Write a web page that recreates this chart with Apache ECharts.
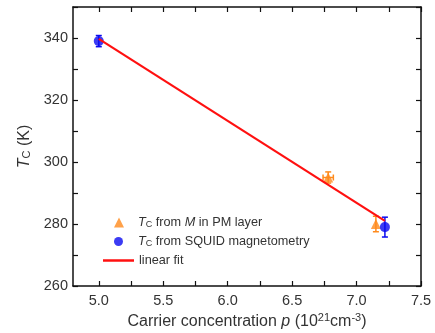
<!DOCTYPE html>
<html><head><meta charset="utf-8">
<script src="https://cdn.jsdelivr.net/npm/echarts@6/dist/echarts.min.js"></script>
<style>html,body{margin:0;padding:0;background:#fff}#c{width:435px;height:333px}</style>
</head><body><div id="c"></div>
<script>
// x, y, yErr, xErr
const pmX = [6.78, 7.15];
const pmY = [295, 280];
const pmYErr = [1.8, 2.5];
const pmXErr = [0.04, 0.0];
const squidX = [5.0, 7.22];
const squidY = [339, 279];
const squidYErr = [1.8, 3.2];
const fitX = [5.0, 7.22];
const fitY = [339.7, 281];
const xTicks = [5.0, 5.25, 5.5, 5.75, 6.0, 6.25, 6.5, 6.75, 7.0, 7.25, 7.5];
const xLabels = [5.0, 5.5, 6.0, 6.5, 7.0, 7.5];
const yLabels = [260, 280, 300, 320, 340];

const ORANGE = '#FF8A1C', BLUE = '#0A0AF0', RED = '#FF1010';
const FONT = 'Liberation Sans, Arial, sans-serif';

function errData(xs, ys, ye, xe) {
  return xs.map((x, i) => [x, ys[i], ye[i], xe ? xe[i] : 0]);
}
function errRender(color) {
  return function (params, api) {
    const x = api.value(0), y = api.value(1), ye = api.value(2), xe = api.value(3);
    const c = api.coord([x, y]);
    const top = api.coord([x, y + ye]);
    const bot = api.coord([x, y - ye]);
    const cap = 3;
    const st = { stroke: color, lineWidth: 1.5 };
    const ch = [
      { type: 'line', shape: { x1: c[0], y1: top[1], x2: c[0], y2: bot[1] }, style: st },
      { type: 'line', shape: { x1: c[0] - cap, y1: top[1], x2: c[0] + cap, y2: top[1] }, style: st },
      { type: 'line', shape: { x1: c[0] - cap, y1: bot[1], x2: c[0] + cap, y2: bot[1] }, style: st }
    ];
    if (xe > 0) {
      const l = api.coord([x - xe, y]), r = api.coord([x + xe, y]);
      ch.push({ type: 'line', shape: { x1: l[0], y1: c[1], x2: r[0], y2: c[1] }, style: st });
      ch.push({ type: 'line', shape: { x1: l[0], y1: c[1] - cap, x2: l[0], y2: c[1] + cap }, style: st });
      ch.push({ type: 'line', shape: { x1: r[0], y1: c[1] - cap, x2: r[0], y2: c[1] + cap }, style: st });
    }
    return { type: 'group', children: ch };
  };
}

const tickStyle = { inside: true, length: 5, lineStyle: { color: '#111', width: 1.2 } };
const lineStyle = { lineStyle: { color: '#111', width: 1.5 } };
const labelStyle = { color: '#333', fontSize: 14.5, fontFamily: FONT };
const richName = {
  i: { fontStyle: 'italic', fontSize: 16, fontFamily: FONT, color: '#333' },
  s: { fontSize: 11, fontFamily: FONT, color: '#333', padding: [6, 0, 0, 0] },
  p: { fontSize: 11, fontFamily: FONT, color: '#333', padding: [0, 0, 7, 0] },
  n: { fontSize: 16, fontFamily: FONT, color: '#333' }
};
const richLegend = {
  i: { fontStyle: 'italic', fontSize: 12.7, fontFamily: FONT, color: '#333' },
  s: { fontSize: 9, fontFamily: FONT, color: '#333', padding: [5, 0, 0, 0] },
  n: { fontSize: 12.7, fontFamily: FONT, color: '#333' }
};
function legendFmt(n) {
  if (n === 'pm') return '{i|T}{s|C}{n| from }{i|M}{n| in PM layer}';
  if (n === 'squid') return '{i|T}{s|C}{n| from SQUID magnetometry}';
  return '{n|linear fit}';
}
function mkLegend(name, icon, color, left, top, w, h, padLeft) {
  return {
    orient: 'vertical', left: left, top: top, itemWidth: w, itemHeight: h,
    textStyle: { rich: richLegend, fontSize: 12.7, padding: [0, 0, 0, padLeft] },
    data: [{ name: name, icon: icon, itemStyle: { color: color } }],
    formatter: legendFmt
  };
}

const chart = echarts.init(document.getElementById('c'), null, { renderer: 'canvas' });
chart.setOption({
  animation: false,
  backgroundColor: '#fff',
  grid: { left: 73, right: 14, top: 7, bottom: 47, containLabel: false, outerBoundsMode: 'none' },
  legend: [
    mkLegend('pm', 'triangle', ORANGE, 109, 211, 10, 10, 9),
    mkLegend('squid', 'circle', BLUE, 109, 230, 9, 9, 10),
    mkLegend('fit', 'rect', RED, 98, 249, 31, 2.5, 0)
  ],
  xAxis: [
    {
      type: 'value', min: 4.8, max: 7.5, position: 'bottom',
      axisLine: lineStyle, splitLine: { show: false },
      axisTick: Object.assign({ customValues: xTicks }, tickStyle),
      axisLabel: Object.assign({ customValues: xLabels, margin: 7, formatter: v => v.toFixed(1) }, labelStyle),
      name: '{n|Carrier concentration }{i|p}{n| (10}{p|21}{n|cm}{p|-3}{n|)}',
      nameLocation: 'middle', nameGap: 25,
      nameTextStyle: { rich: richName }
    },
    {
      type: 'value', min: 4.8, max: 7.5, position: 'top',
      axisLine: lineStyle, splitLine: { show: false },
      axisTick: Object.assign({ customValues: xTicks }, tickStyle),
      axisLabel: { show: false }
    }
  ],
  yAxis: [
    {
      type: 'value', min: 260, max: 350, interval: 10, position: 'left',
      axisLine: lineStyle, splitLine: { show: false },
      axisTick: tickStyle,
      axisLabel: Object.assign({ customValues: yLabels, margin: 5 }, labelStyle),
      name: '{i|T}{s|C}{n| (K)}', nameLocation: 'middle', nameGap: 36,
      nameTextStyle: { rich: richName }
    },
    {
      type: 'value', min: 260, max: 350, interval: 10, position: 'right',
      axisLine: lineStyle, splitLine: { show: false },
      axisTick: tickStyle, axisLabel: { show: false }
    }
  ],
  series: [
    { type: 'custom', name: 'pmErr', renderItem: errRender(ORANGE), data: errData(pmX, pmY, pmYErr, pmXErr), z: 2 },
    { type: 'custom', name: 'squidErr', renderItem: errRender(BLUE), data: errData(squidX, squidY, squidYErr), z: 2 },
    { type: 'scatter', name: 'pm', symbol: 'triangle', symbolSize: 10, itemStyle: { color: ORANGE }, data: pmX.map((x, i) => [x, pmY[i]]), z: 3 },
    { type: 'scatter', name: 'squid', symbol: 'circle', symbolSize: 10, itemStyle: { color: BLUE }, data: squidX.map((x, i) => [x, squidY[i]]), z: 3 },
    { type: 'line', name: 'fit', symbol: 'none', lineStyle: { color: RED, width: 2.2 }, itemStyle: { color: RED }, data: fitX.map((x, i) => [x, fitY[i]]), z: 4 }
  ]
});
</script></body></html>
